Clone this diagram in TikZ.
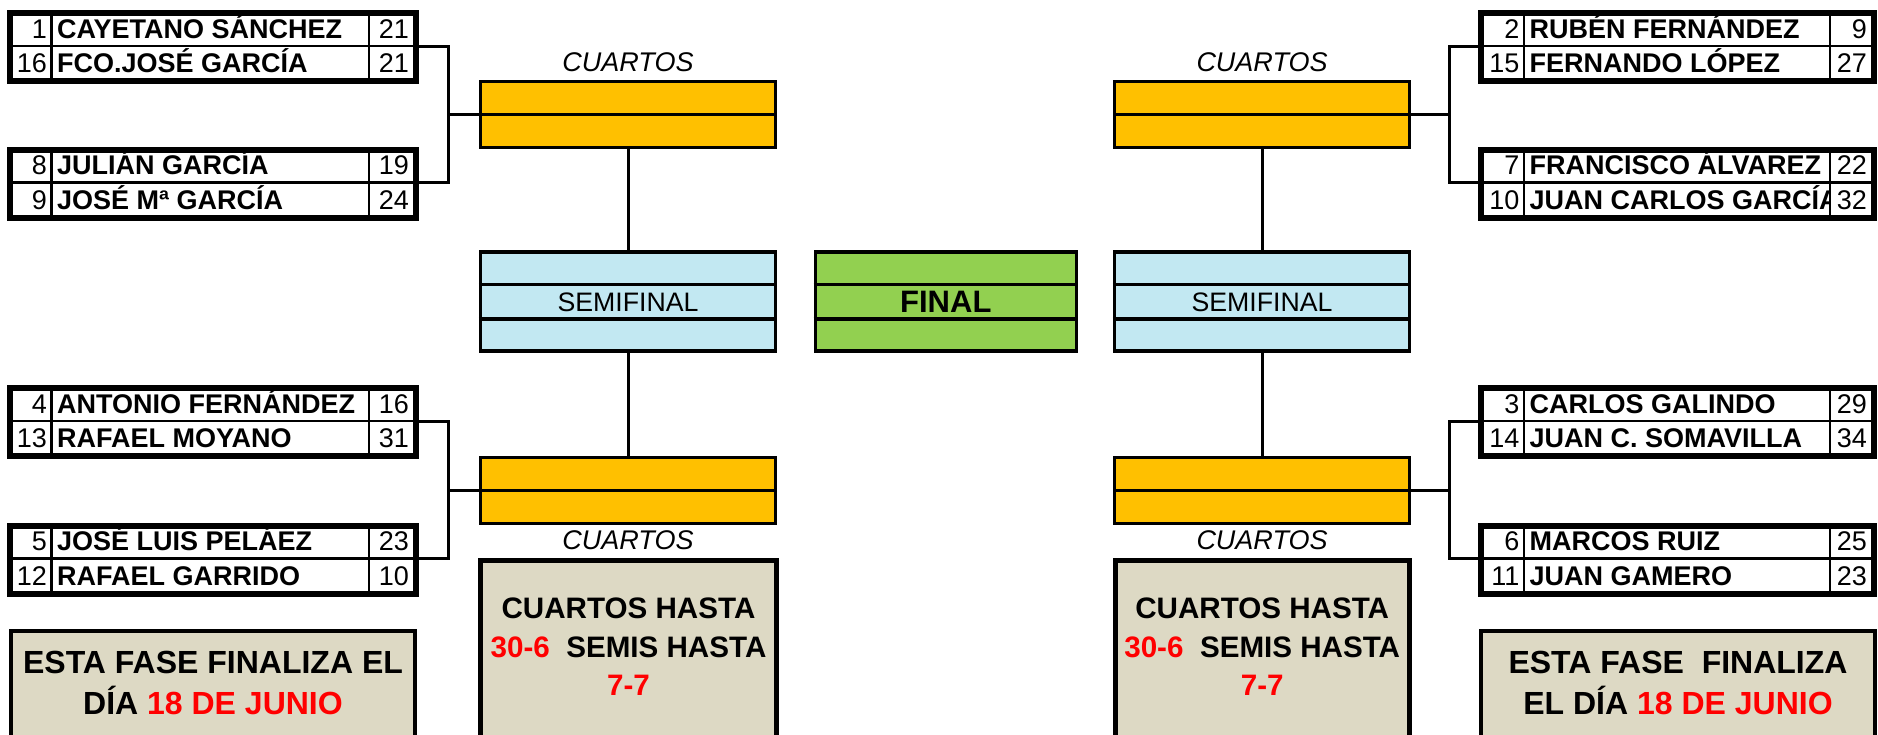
\documentclass[tikz,border=0pt]{standalone}
\usepackage{fontspec}
\setmainfont{Liberation Sans}
\usetikzlibrary{calc}
\definecolor{qorange}{HTML}{FFC000}
\definecolor{sblue}{HTML}{C2E8F2}
\definecolor{fgreen}{HTML}{92D050}
\definecolor{ntan}{HTML}{DDD9C4}
\definecolor{hred}{HTML}{FF0000}
\tikzset{
  pframe/.style={line width=6pt},
  pcell/.style={line width=2.6pt},
  conn/.style={line width=3pt},
  pnum/.style={inner sep=0pt, font=\fontsize{27}{27}\selectfont, text height=19.3pt, text depth=0pt},
  pname/.style={pnum, font=\fontsize{27}{27}\selectfont\bfseries},
  qbox/.style={draw, line width=3pt, fill=qorange, minimum width=295pt, minimum height=66pt, inner sep=0pt},
  sbox/.style={draw, line width=3.5pt, fill=sblue, minimum width=295pt, minimum height=99pt, inner sep=0pt,
    font=\fontsize{26.7}{26.7}\selectfont, text height=19.1pt, text depth=0pt},
  fbox/.style={sbox, fill=fgreen, minimum width=261pt, font=\fontsize{31}{31}\selectfont\bfseries, text height=22.2pt},
  rlabel/.style={inner sep=0pt, font=\fontsize{27}{27}\selectfont\itshape, text height=19.3pt, text depth=0pt},
  notebox/.style={draw, fill=ntan, inner sep=0pt},
  midtext/.style={inner sep=0pt, font=\fontsize{29.6}{29.6}\selectfont\bfseries, text height=21.2pt, text depth=0pt},
  endtext/.style={inner sep=0pt, font=\fontsize{32}{32}\selectfont\bfseries, text height=22.9pt, text depth=0pt}
}
% #1 id, #2 top, #3-#5 first row, #6-#8 second row
\newcommand\pbox[8]{%
  \draw[pcell] (\pbL,#2+33) -- (\pbR,#2+33);
  \draw[pcell] (\pbA,#2) -- (\pbA,#2+68);
  \draw[pcell] (\pbB,#2) -- (\pbB,#2+68);
  \draw[pframe] (\pbL,#2) rectangle (\pbR,#2+68);
  \node[pnum,anchor=east] (#1-n1) at (\pbA-4.5,#2+15.5) {#3};
  \node[pnum,anchor=east] (#1-s1) at (\pbR-7,#2+15.5) {#5};
  \node[pnum,anchor=east] (#1-n2) at (\pbA-4.5,#2+50) {#6};
  \node[pnum,anchor=east] (#1-s2) at (\pbR-7,#2+50) {#8};
  \begin{scope}
    \clip (\pbA+1.3,#2) rectangle (\pbB-1.3,#2+68);
    \node[pname,anchor=west] (#1-m1) at (\pbA+5.5,#2+15.5) {#4};
    \node[pname,anchor=west] (#1-m2) at (\pbA+5.5,#2+50) {#7};
  \end{scope}
  \coordinate (#1-L) at (\pbL-3,#2+33);
  \coordinate (#1-R) at (\pbR+3,#2+33);
}
\begin{document}
\begin{tikzpicture}[x=1pt,y=-1pt]
\useasboundingbox (0,0) rectangle (1878,734);
\clip (0,0) rectangle (1878,734);

% ---- left players
\def\pbL{10}\def\pbA{51.5}\def\pbB{369}\def\pbR{416}
\pbox{p1}{13}{1}{CAYETANO SÁNCHEZ}{21}{16}{FCO.JOSÉ GARCÍA}{21}
\pbox{p8}{149.7}{8}{JULIÁN GARCÍA}{19}{9}{JOSÉ Mª GARCÍA}{24}
\pbox{p4}{388}{4}{ANTONIO FERNÁNDEZ}{16}{13}{RAFAEL MOYANO}{31}
\pbox{p5}{525.7}{5}{JOSÉ LUIS PELÁEZ}{23}{12}{RAFAEL GARRIDO}{10}

% ---- right players
\def\pbL{1481}\def\pbA{1524}\def\pbB{1830}\def\pbR{1874}
\pbox{p2}{13}{2}{RUBÉN FERNÁNDEZ}{9}{15}{FERNANDO LÓPEZ}{27}
\pbox{p7}{149.7}{7}{FRANCISCO ÁLVAREZ}{22}{10}{JUAN CARLOS GARCÍA}{32}
\pbox{p3}{388}{3}{CARLOS GALINDO}{29}{14}{JUAN C. SOMAVILLA}{34}
\pbox{p6}{525.7}{6}{MARCOS RUIZ}{25}{11}{JUAN GAMERO}{23}

% ---- quarter boxes
\node[qbox] (qTL) at (628,114.5) {};
\node[qbox] (qBL) at (628,490) {};
\node[qbox] (qTR) at (1262,114.5) {};
\node[qbox] (qBR) at (1262,490) {};
\foreach \q in {qTL,qBL,qTR,qBR}{\draw[line width=3pt] (\q.west) -- (\q.east);}

\node[rlabel] (cTL) at (628,61.7) {CUARTOS};
\node[rlabel] (cTR) at (1262,61.7) {CUARTOS};
\node[rlabel] (cBL) at (628,540) {CUARTOS};
\node[rlabel] (cBR) at (1262,540) {CUARTOS};

% ---- semifinal / final
\node[sbox] (sL) at (628,301.7) {SEMIFINAL};
\node[sbox] (sR) at (1262,301.7) {SEMIFINAL};
\node[fbox] (fin) at (945.8,301.7) {FINAL};
\foreach \s in {sL,sR,fin}{
  \draw[line width=3.5pt] ($(\s.north west)!1/3!(\s.south west)$) -- ($(\s.north east)!1/3!(\s.south east)$);
  \draw[line width=3.5pt] ($(\s.north west)!2/3!(\s.south west)$) -- ($(\s.north east)!2/3!(\s.south east)$);
}

% ---- connectors
\draw[conn] (qTL.south) -- (sL.north);
\draw[conn] (sL.south) -- (qBL.north);
\draw[conn] (qTR.south) -- (sR.north);
\draw[conn] (sR.south) -- (qBR.north);

\coordinate (jTL) at (448,114.5);
\coordinate (jBL) at (448,490);
\coordinate (jTR) at (1449,114.5);
\coordinate (jBR) at (1449,490);
\draw[conn] (p1-R) -| (jTL) |- (p8-R);
\draw[conn] (jTL) -- (qTL.west);
\draw[conn] (p4-R) -| (jBL) |- (p5-R);
\draw[conn] (jBL) -- (qBL.west);
\draw[conn] (p2-L) -| (jTR) |- (p7-L);
\draw[conn] (jTR) -- (qTR.east);
\draw[conn] (p3-L) -| (jBR) |- (p6-L);
\draw[conn] (jBR) -- (qBR.east);

% ---- note boxes
\node[notebox, line width=5pt, minimum width=296pt, minimum height=190pt] (nML) at (628.5,655) {};
\node[notebox, line width=5pt, minimum width=294pt, minimum height=190pt] (nMR) at (1262.2,655) {};
\node[notebox, line width=4pt, minimum width=404pt, minimum height=120pt] (nL) at (213,691) {};
\node[notebox, line width=4pt, minimum width=394pt, minimum height=120pt] (nR) at (1678,691) {};

\node[midtext] (tML1) at (628.5,608) {CUARTOS HASTA};
\node[midtext] (tML2) at (628.5,647) {\textcolor{hred}{30-6}\ \ SEMIS HASTA};
\node[midtext] (tML3) at (628.5,685) {\textcolor{hred}{7-7}};
\node[midtext] (tMR1) at (1262.2,608) {CUARTOS HASTA};
\node[midtext] (tMR2) at (1262.2,647) {\textcolor{hred}{30-6}\ \ SEMIS HASTA};
\node[midtext] (tMR3) at (1262.2,685) {\textcolor{hred}{7-7}};

\node[endtext] (tL1) at (213,662) {ESTA FASE FINALIZA EL};
\node[endtext] (tL2) at (213,703) {DÍA \textcolor{hred}{18 DE JUNIO}};
\node[endtext] (tR1) at (1678,662) {ESTA FASE\ \ FINALIZA};
\node[endtext] (tR2) at (1678,703) {EL DÍA \textcolor{hred}{18 DE JUNIO}};
\end{tikzpicture}
\end{document}
